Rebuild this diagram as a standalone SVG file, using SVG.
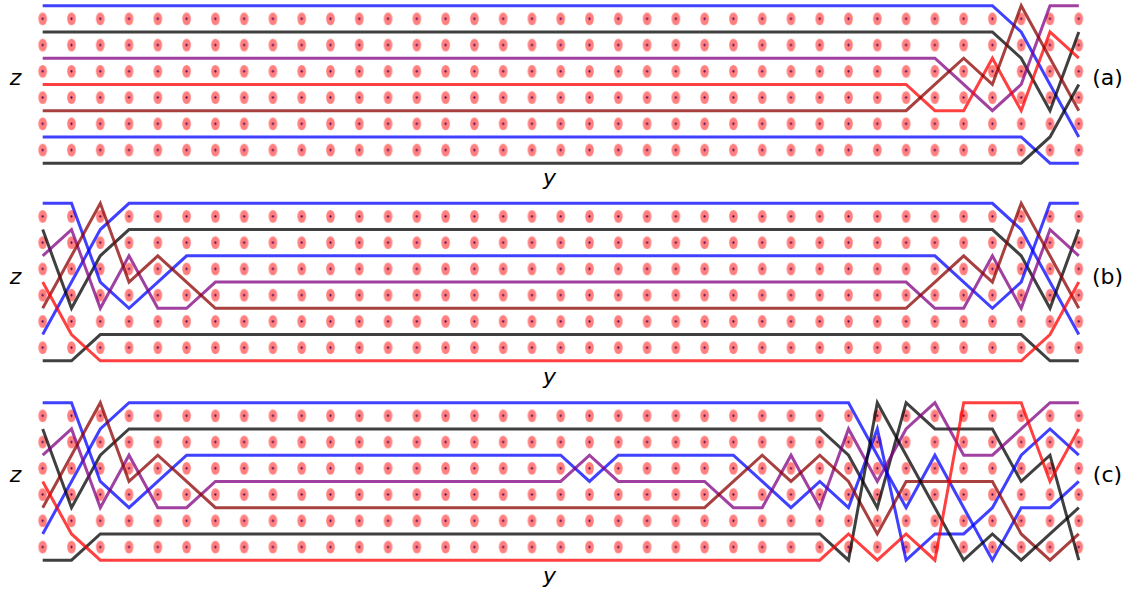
<svg xmlns="http://www.w3.org/2000/svg" width="1130" height="594" viewBox="0 0 1130 594">
<style>
.ln{fill:none;stroke-width:3;stroke-linejoin:miter;stroke-opacity:0.75}
.bl{stroke:#0000ff}
.bk{stroke:#000000}
.pu{stroke:#800080}
.rd{stroke:#ff0000}
.br{stroke:#8b0000}
.lbl{font-family:"DejaVu Sans","Liberation Sans",sans-serif;font-size:22px;fill:#000}
.it{font-style:italic}
</style>
<defs>
<pattern id="dots" patternUnits="userSpaceOnUse" x="28.31" y="0" width="28.78" height="26.25">
<ellipse cx="14.39" cy="13.125" rx="4.3" ry="6.4" fill="#ff0000" fill-opacity="0.5"/>
<circle cx="14.39" cy="13.125" r="1.1" fill="#4b0050"/>
</pattern>
</defs>
<rect width="1130" height="594" fill="#ffffff"/>

<g id="panel-a" transform="translate(0,5.7)">
<rect id="dots-a" x="28.31" y="0" width="1064.9" height="157.5" fill="url(#dots)"/>
<g id="connectors-a">
<polyline class="ln bl" points="42.7,0 992.4,0 1021.2,26.25 1050,78.75 1078.8,131.25"/>
<polyline class="ln bk" points="42.7,26.25 992.4,26.25 1021.2,52.5 1050,105 1078.8,26.25"/>
<polyline class="ln pu" points="42.7,52.5 934.9,52.5 963.7,78.75 992.4,105 1021.2,78.75 1050,0 1078.8,0"/>
<polyline class="ln rd" points="42.7,78.75 906.1,78.75 934.9,105 963.7,105 992.4,52.5 1021.2,105 1050,26.25 1078.8,52.5"/>
<polyline class="ln br" points="42.7,105 906.1,105 934.9,78.75 963.7,52.5 992.4,78.75 1021.2,0 1050,52.5 1078.8,105"/>
<polyline class="ln bl" points="42.7,131.25 1021.2,131.25 1050,157.5 1078.8,157.5"/>
<polyline class="ln bk" points="42.7,157.5 1021.2,157.5 1050,131.25 1078.8,78.75"/>
</g>
</g>

<g id="panel-b" transform="translate(0,203.3)">
<rect id="dots-b" x="28.31" y="0" width="1064.9" height="157.5" fill="url(#dots)"/>
<g id="connectors-b">
<polyline class="ln bl" points="42.7,131.25 71.5,78.75 100.3,26.25 129,0 992.4,0 1021.2,26.25 1050,78.75 1078.8,131.25"/>
<polyline class="ln bk" points="42.7,26.25 71.5,105 100.3,52.5 129,26.25 992.4,26.25 1021.2,52.5 1050,105 1078.8,26.25"/>
<polyline class="ln bl" points="42.7,0 71.5,0 100.3,78.75 129,105 157.8,78.75 186.6,52.5 934.9,52.5 963.7,78.75 992.4,105 1021.2,78.75 1050,0 1078.8,0"/>
<polyline class="ln pu" points="42.7,52.5 71.5,26.25 100.3,105 129,52.5 157.8,105 186.6,105 215.4,78.75 906.1,78.75 934.9,105 963.7,105 992.4,52.5 1021.2,105 1050,26.25 1078.8,52.5"/>
<polyline class="ln br" points="42.7,105 71.5,52.5 100.3,0 129,78.75 157.8,52.5 186.6,78.75 215.4,105 906.1,105 934.9,78.75 963.7,52.5 992.4,78.75 1021.2,0 1050,52.5 1078.8,105"/>
<polyline class="ln bk" points="42.7,157.5 71.5,157.5 100.3,131.25 1021.2,131.25 1050,157.5 1078.8,157.5"/>
<polyline class="ln rd" points="42.7,78.75 71.5,131.25 100.3,157.5 1021.2,157.5 1050,131.25 1078.8,78.75"/>
</g>
</g>

<g id="panel-c" transform="translate(0,402.7)">
<rect id="dots-c" x="28.31" y="0" width="1064.9" height="157.5" fill="url(#dots)"/>
<g id="connectors-c">
<polyline class="ln bl" points="42.7,131.25 71.5,78.75 100.3,26.25 129,0 848.5,0 877.3,52.5 906.1,105 934.9,52.5 963.7,105 992.4,157.5 1021.2,105 1050,105 1078.8,78.75"/>
<polyline class="ln bk" points="42.7,26.25 71.5,105 100.3,52.5 129,26.25 819.8,26.25 848.5,52.5 877.3,105 906.1,0 934.9,26.25 992.4,26.25 1021.2,78.75 1050,52.5 1078.8,157.5"/>
<polyline class="ln bl" points="42.7,0 71.5,0 100.3,78.75 129,105 157.8,78.75 186.6,52.5 560.7,52.5 589.5,78.75 618.3,52.5 733.4,52.5 762.2,78.75 791,105 819.8,78.75 848.5,105 877.3,26.25 906.1,157.5 934.9,131.25 963.7,131.25 992.4,105 1021.2,52.5 1050,26.25 1078.8,52.5"/>
<polyline class="ln pu" points="42.7,52.5 71.5,26.25 100.3,105 129,52.5 157.8,105 186.6,105 215.4,78.75 560.7,78.75 589.5,52.5 618.3,78.75 704.6,78.75 733.4,105 762.2,105 791,52.5 819.8,105 848.5,26.25 877.3,78.75 906.1,26.25 934.9,0 963.7,52.5 992.4,52.5 1021.2,26.25 1050,0 1078.8,0"/>
<polyline class="ln br" points="42.7,105 71.5,52.5 100.3,0 129,78.75 157.8,52.5 186.6,78.75 215.4,105 704.6,105 733.4,78.75 762.2,52.5 791,78.75 819.8,52.5 848.5,78.75 877.3,131.25 906.1,78.75 992.4,78.75 1021.2,131.25 1050,157.5 1078.8,131.25"/>
<polyline class="ln bk" points="42.7,157.5 71.5,157.5 100.3,131.25 819.8,131.25 848.5,157.5 877.3,0 963.7,157.5 992.4,131.25 1021.2,157.5 1050,131.25 1078.8,105"/>
<polyline class="ln rd" points="42.7,78.75 71.5,131.25 100.3,157.5 819.8,157.5 848.5,131.25 877.3,157.5 906.1,131.25 934.9,157.5 963.7,0 1021.2,0 1050,78.75 1078.8,26.25"/>
</g>
</g>

<g id="labels">
<text class="lbl it" x="15.5" y="85" text-anchor="middle">z</text>
<text class="lbl it" x="549.5" y="185" text-anchor="middle">y</text>
<text class="lbl" x="1107.5" y="85" text-anchor="middle">(a)</text>
<text class="lbl it" x="15.5" y="284.3" text-anchor="middle">z</text>
<text class="lbl it" x="549.5" y="384" text-anchor="middle">y</text>
<text class="lbl" x="1107.5" y="284" text-anchor="middle">(b)</text>
<text class="lbl it" x="15.5" y="482.3" text-anchor="middle">z</text>
<text class="lbl it" x="549.5" y="583" text-anchor="middle">y</text>
<text class="lbl" x="1107.5" y="482" text-anchor="middle">(c)</text>
</g>
</svg>
